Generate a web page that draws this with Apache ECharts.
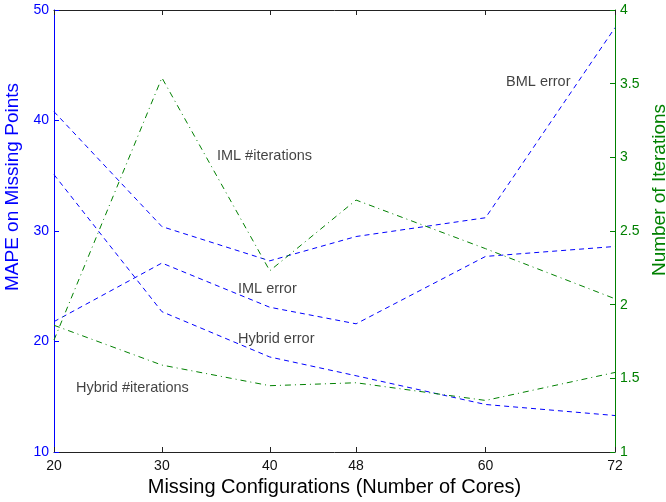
<!DOCTYPE html>
<html>
<head>
<meta charset="utf-8">
<script src="https://cdn.jsdelivr.net/npm/echarts@6/dist/echarts.min.js"></script>
<style>
  html, body { margin: 0; padding: 0; background: #fff; }
  #chart { width: 666px; height: 502px; }
</style>
</head>
<body>
<div id="chart"></div>
<script>
// number of cores on the x axis
var cores = [20, 30, 40, 48, 60, 72];
var xTicks = [20, 30, 40, 48, 60, 72];

// MAPE (left axis)
var bmlError = [40.8, 30.4, 27.3, 29.5, 31.2, 48.4];
var imlError = [21.8, 27.1, 23.1, 21.6, 27.7, 28.6];
var hybridError = [35.1, 22.7, 18.6, 16.9, 14.3, 13.3];

// number of iterations (right axis)
var imlIter = [1.76, 3.54, 2.23, 2.71, 2.38, 2.04];
var hybridIter = [1.86, 1.59, 1.45, 1.47, 1.35, 1.54];

// text annotations: [x, y on left axis, text]
var notes = [
    [35.1, 36.8, 'IML #iterations'],
    [61.9, 43.5, 'BML error'],
    [37.05, 24.75, 'IML error'],
    [37.05, 20.2, 'Hybrid error'],
    [22.04, 15.8, 'Hybrid #iterations']
];

var BLUE = '#0000ff';
var GREEN = '#008000';
var FONT = 'Liberation Sans';

function pairs(ys) {
    return cores.map(function (c, i) { return [c, ys[i]]; });
}

function dashed(name, ys) {
    return {
        name: name, type: 'line', yAxisIndex: 0, symbol: 'none', silent: true,
        data: pairs(ys),
        lineStyle: { color: BLUE, width: 1, type: [5, 4] }
    };
}

function dashDot(name, ys) {
    return {
        name: name, type: 'line', yAxisIndex: 1, symbol: 'none', silent: true,
        data: pairs(ys),
        lineStyle: { color: GREEN, width: 1, type: [6, 4, 1, 4] }
    };
}

var myChart = echarts.init(document.getElementById('chart'));
myChart.setOption({
    animation: false,
    grid: { left: 54, right: 51, top: 10, bottom: 50, outerBoundsMode: 'none', containLabel: false },
    xAxis: [{
        type: 'value', min: 20, max: 72, position: 'bottom',
        name: 'Missing Configurations (Number of Cores)',
        nameLocation: 'middle', nameGap: 24,
        nameTextStyle: { color: '#000', fontSize: 20, fontFamily: FONT },
        axisLine: { lineStyle: { color: '#222', width: 1 } },
        axisTick: { inside: true, length: 5, customValues: xTicks, lineStyle: { color: '#222' } },
        axisLabel: { customValues: xTicks, color: '#111', fontSize: 14, fontFamily: FONT, margin: 7 },
        splitLine: { show: false }
    }, {
        type: 'value', min: 20, max: 72, position: 'top',
        axisLine: { lineStyle: { color: '#222', width: 1 } },
        axisTick: { inside: true, length: 5, customValues: xTicks, lineStyle: { color: '#222' } },
        axisLabel: { show: false },
        splitLine: { show: false }
    }],
    yAxis: [{
        type: 'value', min: 10, max: 50, interval: 10,
        name: 'MAPE on Missing Points', nameLocation: 'middle', nameGap: 22,
        nameRotate: 90,
        nameTextStyle: { color: BLUE, fontSize: 19, fontFamily: FONT, padding: [0, 0, 0, 88] },
        axisLine: { show: true, lineStyle: { color: BLUE, width: 1 } },
        axisTick: { show: true, inside: true, length: 5, lineStyle: { color: BLUE } },
        axisLabel: { color: BLUE, fontSize: 14, fontFamily: FONT, margin: 5 },
        splitLine: { show: false }
    }, {
        type: 'value', min: 1, max: 4, interval: 0.5, position: 'right',
        name: 'Number of Iterations', nameLocation: 'middle', nameGap: 32,
        nameRotate: 90,
        nameTextStyle: { color: GREEN, fontSize: 19, fontFamily: FONT, padding: [0, 0, 0, 82] },
        axisLine: { show: true, lineStyle: { color: GREEN, width: 1 } },
        axisTick: { show: true, inside: true, length: 5, lineStyle: { color: GREEN } },
        axisLabel: { color: GREEN, fontSize: 14, fontFamily: FONT, margin: 5 },
        splitLine: { show: false }
    }],
    series: [
        dashed('BML error', bmlError),
        dashed('IML error', imlError),
        dashed('Hybrid error', hybridError),
        dashDot('IML #iterations', imlIter),
        dashDot('Hybrid #iterations', hybridIter),
        {
            name: 'notes', type: 'scatter', yAxisIndex: 0, symbolSize: 0, silent: true,
            data: notes.map(function (n) { return { value: [n[0], n[1]], text: n[2] }; }),
            label: {
                show: true, position: 'right', distance: 0,
                color: '#111', fontSize: 14.5, fontFamily: FONT,
                formatter: function (p) { return p.data.text; }
            }
        }
    ]
});
</script>
</body>
</html>
